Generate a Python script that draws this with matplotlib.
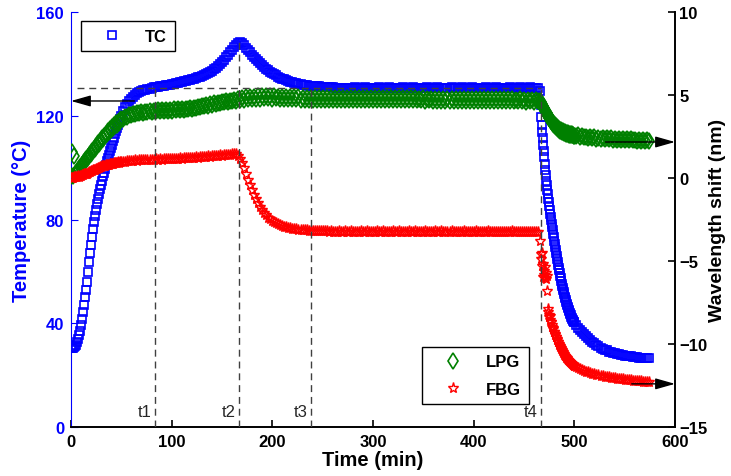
import numpy as np
import matplotlib
matplotlib.use("Agg")
import matplotlib.pyplot as plt

plt.rcParams['font.family'] = ['Liberation Sans', 'DejaVu Sans']
plt.rcParams['font.weight'] = 'bold'
plt.rcParams['axes.labelweight'] = 'bold'

# sampling grid (min): 1 min while heating, 2 min on the hold, 0.5 min on the fast cooling
time_min = np.concatenate([np.arange(0, 50, 1.0), np.arange(50, 466, 2.0),
                           np.arange(466, 500, 0.5), np.arange(500, 575, 2.0)])

# ---- TC temperature (deg C) ----
tc_warm = [30.5, 30.5, 30.6, 30.8, 31.2, 31.8, 32.7, 33.9, 35.4, 37.2,
           39.3, 41.7, 44.3, 47.1, 50.0, 53.0, 56.1, 59.8, 63.5, 67.0,
           70.3, 73.4, 76.3, 79.0, 81.5, 83.8, 86.0, 88.0, 89.9, 91.7,
           93.4, 95.0, 96.6, 98.1, 99.6, 101.0, 102.4, 103.7, 105.0, 106.3,
           107.6, 108.9, 110.2, 111.5, 112.8, 114.0, 115.3, 116.5, 117.7, 118.9]
tc_hold = [120.0, 121.8, 123.3, 124.6, 125.7, 126.6, 127.4, 128.0, 128.6, 129.0,
           129.4, 129.8, 130.0, 130.3, 130.5, 130.7, 130.9, 131.1, 131.2, 131.3,
           131.5, 131.6, 131.7, 131.9, 132.0, 132.1, 132.3, 132.5, 132.7, 132.9,
           133.1, 133.3, 133.5, 133.7, 133.9, 134.1, 134.3, 134.5, 134.8, 135.0,
           135.3, 135.7, 136.0, 136.4, 136.8, 137.3, 137.9, 138.5, 139.2, 139.9,
           140.7, 141.6, 142.5, 143.5, 144.5, 145.5, 146.5, 147.4, 148.2, 148.5,
           148.0, 147.2, 146.3, 145.3, 144.4, 143.4, 142.6, 141.8, 141.0, 140.2,
           139.5, 138.8, 138.1, 137.5, 137.0, 136.5, 136.0, 135.6, 135.1, 134.7,
           134.3, 134.0, 133.7, 133.4, 133.1, 132.9, 132.7, 132.5, 132.3, 132.1,
           132.0, 131.9, 131.7, 131.6, 131.5, 131.5, 131.4, 131.3, 131.3, 131.2,
           131.2, 131.1, 131.0, 131.0, 130.9, 130.9, 130.8, 130.8, 130.8, 130.7,
           130.8, 130.7, 130.8, 130.8, 130.7, 130.8, 130.9, 130.8, 130.7, 130.8,
           130.8, 130.9, 130.8, 130.7, 130.8, 130.8, 130.7, 130.8, 130.9, 130.8,
           130.7, 130.8, 130.8, 130.9, 130.8, 130.7, 130.8, 130.8, 130.7, 130.8,
           130.9, 130.8, 130.7, 130.8, 130.8, 130.9, 130.8, 130.7, 130.8, 130.8,
           130.7, 130.8, 130.9, 130.8, 130.7, 130.8, 130.8, 130.9, 130.8, 130.7,
           130.8, 130.8, 130.7, 130.8, 130.9, 130.8, 130.8, 130.7, 130.8, 130.9,
           130.8, 130.7, 130.8, 130.8, 130.9, 130.8, 130.7, 130.8, 130.8, 130.7,
           130.8, 130.9, 130.8, 130.7, 130.8, 130.8, 130.9, 130.8, 130.7, 130.8,
           130.8, 130.7, 130.8, 130.9, 130.8, 130.8, 130.7, 130.8, 130.9, 130.8,
           130.8, 130.7, 130.8, 130.9, 130.8, 130.7, 130.8, 130.8]
tc_cool = [129.5, 124.0, 119.5, 116.5, 113.8, 111.3, 108.9, 106.5, 104.0, 101.5,
           99.2, 97.0, 95.0, 93.2, 91.5, 89.8, 88.1, 86.6, 85.1, 83.7,
           82.3, 81.0, 79.7, 78.4, 77.1, 75.8, 74.5, 73.2, 71.9, 70.6,
           69.4, 68.2, 67.0, 65.9, 64.8, 63.7, 62.6, 61.5, 60.4, 59.3,
           58.3, 57.3, 56.3, 55.3, 54.4, 53.5, 52.7, 51.9, 51.1, 50.3,
           49.6, 48.9, 48.2, 47.5, 46.9, 46.3, 45.7, 45.1, 44.6, 44.1,
           43.6, 43.1, 42.6, 42.2, 41.8, 41.4, 41.0, 40.6]
tc_tail = [40.3, 39.3, 38.3, 37.4, 36.5, 35.7, 34.9, 34.2, 33.5, 32.8,
           32.2, 31.6, 31.1, 30.6, 30.2, 29.8, 29.5, 29.1, 28.9, 28.6,
           28.4, 28.2, 28.0, 27.8, 27.7, 27.5, 27.4, 27.3, 27.2, 27.1,
           27.0, 26.9, 26.8, 26.7, 26.7, 26.6, 26.5, 26.5]

# ---- LPG wavelength shift (nm) ----
lpg_warm = [0.10, 1.55, 0.15, 1.30, 0.25, 0.33, 0.38, 0.47, 0.53, 0.64,
            0.69, 0.80, 0.85, 0.97, 1.01, 1.13, 1.16, 1.29, 1.32, 1.45,
            1.47, 1.61, 1.62, 1.77, 1.77, 1.93, 1.92, 2.08, 2.07, 2.24,
            2.22, 2.39, 2.37, 2.53, 2.51, 2.68, 2.64, 2.82, 2.77, 2.96,
            2.91, 3.09, 3.02, 3.21, 3.12, 3.31, 3.21, 3.40, 3.29, 3.47]
lpg_hold = [3.55, 3.58, 3.66, 3.68, 3.77, 3.78, 3.86, 3.84, 3.92, 3.90,
            3.97, 3.93, 4.00, 3.96, 4.03, 3.98, 4.05, 4.01, 4.07, 4.02,
            4.08, 4.04, 4.10, 4.05, 4.11, 4.06, 4.13, 4.08, 4.14, 4.09,
            4.16, 4.11, 4.18, 4.13, 4.20, 4.16, 4.23, 4.20, 4.28, 4.25,
            4.33, 4.31, 4.39, 4.36, 4.44, 4.41, 4.49, 4.46, 4.54, 4.50,
            4.58, 4.55, 4.62, 4.58, 4.66, 4.62, 4.70, 4.66, 4.74, 4.70,
            4.84, 4.72, 4.86, 4.74, 4.89, 4.76, 4.91, 4.78, 4.92, 4.79,
            4.93, 4.80, 4.92, 4.81, 4.93, 4.79, 4.92, 4.80, 4.91, 4.79,
            4.91, 4.78, 4.90, 4.77, 4.88, 4.76, 4.87, 4.74, 4.86, 4.73,
            4.84, 4.72, 4.83, 4.71, 4.82, 4.70, 4.81, 4.68, 4.80, 4.68,
            4.80, 4.67, 4.81, 4.68, 4.80, 4.67, 4.82, 4.68, 4.81, 4.69,
            4.82, 4.69, 4.81, 4.68, 4.82, 4.70, 4.83, 4.69, 4.82, 4.70,
            4.83, 4.70, 4.82, 4.69, 4.83, 4.70, 4.82, 4.69, 4.83, 4.70,
            4.82, 4.69, 4.83, 4.70, 4.81, 4.69, 4.82, 4.68, 4.81, 4.69,
            4.81, 4.68, 4.80, 4.69, 4.81, 4.67, 4.80, 4.68, 4.79, 4.67,
            4.80, 4.66, 4.79, 4.67, 4.78, 4.66, 4.79, 4.65, 4.78, 4.66,
            4.78, 4.65, 4.77, 4.66, 4.78, 4.65, 4.77, 4.64, 4.76, 4.65,
            4.77, 4.64, 4.76, 4.65, 4.77, 4.64, 4.76, 4.63, 4.75, 4.64,
            4.76, 4.63, 4.75, 4.64, 4.76, 4.63, 4.75, 4.62, 4.74, 4.63,
            4.75, 4.62, 4.74, 4.63, 4.75, 4.61, 4.73, 4.62, 4.74, 4.61,
            4.73, 4.60, 4.72, 4.61, 4.73, 4.60, 4.71, 4.62]
lpg_cool = [4.62, 4.50, 4.55, 4.40, 4.44, 4.30, 4.33, 4.18, 4.22, 4.06,
            4.10, 3.95, 4.00, 3.85, 3.89, 3.74, 3.78, 3.63, 3.68, 3.53,
            3.58, 3.44, 3.49, 3.35, 3.40, 3.27, 3.32, 3.19, 3.24, 3.12,
            3.17, 3.05, 3.11, 2.99, 3.05, 2.94, 3.00, 2.89, 2.95, 2.85,
            2.91, 2.81, 2.87, 2.78, 2.84, 2.75, 2.81, 2.72, 2.78, 2.70,
            2.76, 2.68, 2.74, 2.66, 2.72, 2.64, 2.70, 2.62, 2.68, 2.61,
            2.66, 2.59, 2.64, 2.58, 2.63, 2.57, 2.61, 2.56]
lpg_tail = [2.56, 2.53, 2.57, 2.49, 2.53, 2.45, 2.50, 2.42, 2.48, 2.40,
            2.45, 2.38, 2.44, 2.36, 2.42, 2.35, 2.40, 2.33, 2.39, 2.32,
            2.38, 2.31, 2.37, 2.30, 2.35, 2.29, 2.34, 2.28, 2.33, 2.27,
            2.32, 2.26, 2.31, 2.25, 2.30, 2.24, 2.29, 2.24]

# ---- FBG wavelength shift (nm) ----
fbg_warm = [0.00, 0.03, -0.01, 0.04, 0.04, 0.06, 0.06, 0.10, 0.09, 0.14,
            0.13, 0.18, 0.17, 0.22, 0.22, 0.27, 0.27, 0.33, 0.34, 0.39,
            0.40, 0.45, 0.46, 0.51, 0.51, 0.56, 0.56, 0.61, 0.61, 0.66,
            0.66, 0.70, 0.70, 0.74, 0.74, 0.78, 0.77, 0.81, 0.80, 0.84,
            0.83, 0.87, 0.86, 0.89, 0.89, 0.92, 0.91, 0.94, 0.93, 0.96]
fbg_hold = [0.96, 0.98, 0.98, 1.01, 1.00, 1.04, 1.03, 1.06, 1.04, 1.07,
            1.06, 1.08, 1.07, 1.10, 1.08, 1.11, 1.09, 1.12, 1.10, 1.13,
            1.11, 1.14, 1.13, 1.15, 1.14, 1.16, 1.15, 1.17, 1.16, 1.18,
            1.17, 1.20, 1.18, 1.21, 1.20, 1.22, 1.21, 1.24, 1.23, 1.26,
            1.25, 1.28, 1.27, 1.30, 1.29, 1.32, 1.31, 1.34, 1.33, 1.36,
            1.35, 1.39, 1.38, 1.41, 1.41, 1.44, 1.44, 1.42, 1.32, 1.12,
            0.88, 0.58, 0.25, -0.10, -0.42, -0.72, -1.00, -1.27, -1.52, -1.74,
            -1.93, -2.10, -2.25, -2.38, -2.49, -2.58, -2.66, -2.73, -2.80, -2.85,
            -2.89, -2.94, -2.97, -3.00, -3.03, -3.05, -3.07, -3.09, -3.11, -3.12,
            -3.14, -3.15, -3.16, -3.17, -3.18, -3.19, -3.19, -3.20, -3.20, -3.21,
            -3.21, -3.22, -3.22, -3.23, -3.22, -3.23, -3.24, -3.23, -3.22, -3.23,
            -3.23, -3.22, -3.24, -3.23, -3.22, -3.24, -3.23, -3.25, -3.23, -3.22,
            -3.24, -3.23, -3.22, -3.24, -3.23, -3.25, -3.23, -3.22, -3.24, -3.23,
            -3.22, -3.24, -3.23, -3.25, -3.23, -3.22, -3.24, -3.23, -3.22, -3.24,
            -3.23, -3.25, -3.23, -3.22, -3.24, -3.23, -3.22, -3.24, -3.23, -3.25,
            -3.23, -3.22, -3.24, -3.23, -3.25, -3.23, -3.22, -3.24, -3.23, -3.22,
            -3.24, -3.23, -3.25, -3.23, -3.22, -3.24, -3.23, -3.25, -3.24, -3.23,
            -3.22, -3.24, -3.23, -3.25, -3.24, -3.23, -3.22, -3.24, -3.23, -3.25,
            -3.24, -3.23, -3.22, -3.24, -3.23, -3.25, -3.24, -3.23, -3.25, -3.24,
            -3.23, -3.25, -3.24, -3.23, -3.22, -3.24, -3.23, -3.25, -3.24, -3.23,
            -3.24, -3.23, -3.25, -3.24, -3.23, -3.25, -3.26, -3.28]
fbg_cool = [-3.80, -4.60, -4.90, -4.50, -5.30, -5.95, -5.20, -5.60, -5.85, -5.35,
            -6.05, -5.75, -6.10, -5.90, -6.80, -7.90, -8.10, -8.25, -8.40, -8.30,
            -8.55, -8.70, -8.65, -8.85, -8.95, -9.05, -9.10, -9.25, -9.30, -9.40,
            -9.45, -9.55, -9.60, -9.70, -9.75, -9.85, -9.90, -9.98, -10.05, -10.12,
            -10.20, -10.26, -10.32, -10.38, -10.44, -10.50, -10.55, -10.60, -10.65, -10.70,
            -10.75, -10.79, -10.83, -10.87, -10.91, -10.95, -10.99, -11.02, -11.05, -11.08,
            -11.11, -11.14, -11.17, -11.20, -11.22, -11.25, -11.27, -11.30]
fbg_tail = [-11.32, -11.38, -11.45, -11.51, -11.56, -11.61, -11.66, -11.70, -11.74, -11.78,
            -11.81, -11.84, -11.87, -11.90, -11.93, -11.96, -11.98, -12.00, -12.02, -12.04,
            -12.06, -12.08, -12.10, -12.12, -12.13, -12.15, -12.16, -12.18, -12.19, -12.20,
            -12.22, -12.23, -12.24, -12.25, -12.26, -12.27, -12.28, -12.29]

tc_temp = np.concatenate([tc_warm, tc_hold, tc_cool, tc_tail])
lpg_shift = np.concatenate([lpg_warm, lpg_hold, lpg_cool, lpg_tail])
fbg_shift = np.concatenate([fbg_warm, fbg_hold, fbg_cool, fbg_tail])

# event markers t1..t4 and the hold temperature
t_marks = [83.5, 167, 238.5, 467]
t_tops = [130.8, 150, 130.8, 130.8]
t_names = ['t1', 't2', 't3', 't4']
hold_temp = 130.8
hold_start = 5.5

blue = '#0000FF'
fig = plt.figure(figsize=(7.31, 4.77), dpi=100)
ax1 = fig.add_axes([0.0971, 0.1027, 0.8263, 0.870])
ax2 = ax1.twinx()

tc_line, = ax1.plot(time_min, tc_temp, 's', ms=6, mfc='none', mec=blue, mew=1.2)
lpg_line, = ax2.plot(time_min, lpg_shift, 'd', ms=8, mfc='none', mec='#008000', mew=1.2)
fbg_line, = ax2.plot(time_min, fbg_shift, '*', ms=8, mfc='none', mec='#FF0000', mew=1.0)

# dashed guides (drawn on top, in temperature units)
dash_kw = dict(color='0.25', lw=1.0, dashes=(5, 3.5), transform=ax1.transData, zorder=5)
for t, top in zip(t_marks, t_tops):
    ax2.plot([t, t], [0, top], **dash_kw)
ax2.plot([hold_start, t_marks[-1]], [hold_temp, hold_temp], **dash_kw)
for t, name in zip(t_marks, t_names):
    ax1.text(t - 3.5, 6, name, ha='right', va='center', fontsize=12,
             fontweight='normal', color='0.15')

# arrows pointing at the axis each curve belongs to
arrow_kw = dict(arrowstyle='-|>,head_length=0.6,head_width=0.17', color='k', lw=1,
                mutation_scale=20, shrinkA=0, shrinkB=0)
ax2.annotate('', xy=(0, 125.7), xytext=(63, 125.7), xycoords=ax1.transData,
             textcoords=ax1.transData, arrowprops=arrow_kw, annotation_clip=False)
ax2.annotate('', xy=(600, 2.17), xytext=(531, 2.17), arrowprops=arrow_kw,
             annotation_clip=False)
ax2.annotate('', xy=(600, -12.4), xytext=(557, -12.4), arrowprops=arrow_kw,
             annotation_clip=False)

ax1.set_xlim(0, 600)
ax1.set_ylim(0, 160)
ax2.set_ylim(-15, 10)
ax1.set_xticks(np.arange(0, 601, 100))
ax1.set_yticks([0, 40, 80, 120, 160])
ax2.set_yticks(np.arange(-15, 11, 5))

for s in ['top', 'right']:
    ax1.spines[s].set_visible(False)
for s in ['top', 'left', 'bottom']:
    ax2.spines[s].set_visible(False)
ax1.spines['left'].set_color(blue)
ax1.spines['left'].set_linewidth(0.8)
ax1.spines['bottom'].set_linewidth(1.4)
ax2.spines['right'].set_linewidth(1.4)

ax1.tick_params(axis='y', colors=blue, direction='in', length=5, width=0.8,
                labelsize=12, pad=5)
ax1.tick_params(axis='x', direction='in', length=5, width=1.2, labelsize=12, pad=5)
ax2.tick_params(axis='y', direction='in', length=5, width=1.2, labelsize=12, pad=3)

ax1.set_xlabel('Time (min)', fontsize=14.5, labelpad=1)
ax1.set_ylabel('Temperature (°C)', fontsize=14.5, color=blue, labelpad=4)
ax2.set_ylabel('Wavelength shift (nm)', fontsize=14, labelpad=1)

leg_kw = dict(loc='upper left', frameon=True, fancybox=False, edgecolor='k',
              framealpha=1, borderaxespad=0, borderpad=0.45, handlelength=2.8,
              handletextpad=0.6, numpoints=1, prop={'weight': 'bold', 'size': 12})
leg1 = ax2.legend([tc_line], ['TC'], bbox_to_anchor=(0.0166, 0.978), **leg_kw)
leg1.get_frame().set_linewidth(1.0)
ax2.add_artist(leg1)
leg2 = ax2.legend([lpg_line, fbg_line], ['LPG', 'FBG'], bbox_to_anchor=(0.581, 0.193),
                  labelspacing=0.75, **leg_kw)
leg2.get_frame().set_linewidth(1.0)

fig.savefig('out.png', dpi=100)
